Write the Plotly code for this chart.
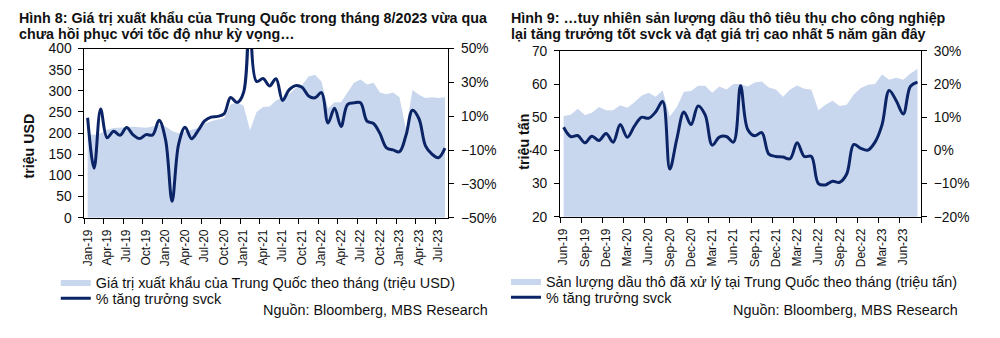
import plotly.graph_objects as go

# ---------------- data ----------------
months_l = ["Jan-19","Feb-19","Mar-19","Apr-19","May-19","Jun-19","Jul-19","Aug-19","Sep-19","Oct-19","Nov-19","Dec-19",
            "Jan-20","Feb-20","Mar-20","Apr-20","May-20","Jun-20","Jul-20","Aug-20","Sep-20","Oct-20","Nov-20","Dec-20",
            "Jan-21","Feb-21","Mar-21","Apr-21","May-21","Jun-21","Jul-21","Aug-21","Sep-21","Oct-21","Nov-21","Dec-21",
            "Jan-22","Feb-22","Mar-22","Apr-22","May-22","Jun-22","Jul-22","Aug-22","Sep-22","Oct-22","Nov-22","Dec-22",
            "Jan-23","Feb-23","Mar-23","Apr-23","May-23","Jun-23","Jul-23","Aug-23"]
exports = [197, 196, 200, 208, 212, 213, 215, 215, 214, 213, 216, 220,
           216, 205, 200, 204, 207, 212, 222, 228, 232, 235, 268, 273,
           265, 207, 250, 262, 263, 277, 285, 292, 307, 313, 334, 338,
           322, 258, 273, 273, 296, 319, 327, 315, 319, 296, 292, 296,
           285, 209, 302, 291, 283, 285, 283, 285]
exports_yoy = [9.1, -20.7, 14.2, -2.7, 1.1, -1.3, 3.3, -1.0, -3.2, -0.9, -1.1, 7.6,
               -4.0, -40.3, -6.6, 3.5, -3.3, 1.5, 7.2, 9.5, 9.9, 11.4, 21.1, 18.1,
               24.0, 154.9, 30.6, 32.3, 27.9, 32.2, 19.3, 25.6, 28.1, 27.1, 22.0, 20.9,
               24.0, 6.0, 14.7, 3.9, 16.9, 17.9, 18.0, 7.1, 5.7, -0.3, -8.7, -9.9,
               -11.0, -1.3, 13.5, 8.5, -7.5, -12.4, -14.5, -8.8]

months_r = ["Jun-19","Jul-19","Aug-19","Sep-19","Oct-19","Nov-19","Dec-19",
            "Jan-20","Feb-20","Mar-20","Apr-20","May-20","Jun-20","Jul-20","Aug-20","Sep-20","Oct-20","Nov-20","Dec-20",
            "Jan-21","Feb-21","Mar-21","Apr-21","May-21","Jun-21","Jul-21","Aug-21","Sep-21","Oct-21","Nov-21","Dec-21",
            "Jan-22","Feb-22","Mar-22","Apr-22","May-22","Jun-22","Jul-22","Aug-22","Sep-22","Oct-22","Nov-22","Dec-22",
            "Jan-23","Feb-23","Mar-23","Apr-23","May-23","Jun-23","Jul-23","Aug-23"]
crude = [50.4, 50.8, 52.6, 50.7, 51.4, 53.1, 52.1, 52.1, 53.6, 52.9, 54.5, 56.5, 57.4, 56.2, 58.1, 50.2, 53.1,
         57.7, 57.9, 59.5, 59.5, 57.4, 59.3, 58.4, 60.0, 60.0, 59.3, 60.5, 60.8, 59.0, 58.4, 56.2, 58.4, 59.6,
         58.6, 58.4, 52.1, 53.8, 55.0, 53.4, 53.8, 56.9, 58.8, 59.8, 60.0, 62.9, 61.3, 61.9, 61.3, 63.2, 64.6]
crude_yoy = [7.0, 4.2, 4.5, 2.3, 4.3, 3.0, 5.1, 2.5, 7.8, 4.0, 7.3, 10.0, 9.7, 11.6, 14.8, -5.6, 3.5,
             11.6, 7.8, 13.4, 10.7, 1.6, 4.0, 4.2, 2.5, 19.5, 6.4, 4.4, 5.4, -1.1, -1.8, -2.0, -2.5, 2.3,
             -1.8, -1.8, -10.0, -10.4, -9.3, -9.6, -7.1, 1.8, 0.6, 0.1, 2.5, 7.8, 18.1, 15.0, 11.0, 19.3, 20.6]

title_l = ["Hình 8: Giá trị xuất khẩu của Trung Quốc trong tháng 8/2023 vừa qua",
           "chưa hồi phục với tốc độ như kỳ vọng…"]
title_r = ["Hình 9: …tuy nhiên sản lượng dầu thô tiêu thụ cho công nghiệp",
           "lại tăng trưởng tốt svck và đạt giá trị cao nhất 5 năm gần đây"]
name_area_l = "Giá trị xuất khẩu của Trung Quốc theo tháng (triệu USD)"
name_area_r = "Sản lượng dầu thô đã xử lý tại Trung Quốc theo tháng (triệu tấn)"
name_line = "% tăng trưởng svck"
source = "Nguồn: Bloomberg, MBS Research"

# ---------------- style ----------------
W, H = 1000, 338
FONT = "Liberation Sans, Arial, sans-serif"
AREA = "#C9D7EE"
LINE = "#0B2466"
TXT = "#111111"
FS_TITLE = 14.3
FS_LEG = 14.4
FS_YT = 13.8
FS_XT = 12

def X(px):
    return px / W

def Y(py):
    return 1 - py / H

xl = list(range(len(months_l)))
xr = list(range(len(months_r)))

fig = go.Figure()
fig.add_trace(go.Scatter(x=xl, y=exports, name=name_area_l, mode="lines", fill="tozeroy",
                         fillcolor=AREA, line=dict(width=0, color=AREA), xaxis="x", yaxis="y",
                         legend="legend"))
fig.add_trace(go.Scatter(x=xl, y=exports_yoy, name=name_line, mode="lines",
                         line=dict(color=LINE, width=3, shape="spline", smoothing=1.0),
                         xaxis="x", yaxis="y2", legend="legend2"))
fig.add_trace(go.Scatter(x=xr, y=crude, name=name_area_r, mode="lines", fill="tozeroy",
                         fillcolor=AREA, line=dict(width=0, color=AREA), xaxis="x2", yaxis="y3",
                         legend="legend3"))
fig.add_trace(go.Scatter(x=xr, y=crude_yoy, name=name_line, mode="lines",
                         line=dict(color=LINE, width=3, shape="spline", smoothing=1.0),
                         xaxis="x2", yaxis="y4", legend="legend4"))

tickfont_y = dict(family=FONT, size=FS_YT, color=TXT)
tickfont_x = dict(family=FONT, size=FS_XT, color=TXT)

def xaxis_cfg(domain, anchor, labels):
    n = len(labels)
    idx = list(range(0, n, 3))
    return dict(domain=domain, anchor=anchor, range=[-0.5, n - 0.5],
                tickmode="array", tickvals=idx, ticktext=[labels[i] for i in idx],
                tickangle=-90, tickfont=tickfont_x, ticks="", ticklen=0, ticklabelstandoff=6,
                minor=dict(tickmode="array", tickvals=[i - 0.5 for i in range(0, n + 1, 3)],
                           ticks="outside", ticklen=5, tickcolor="black", tickwidth=1),
                showline=True, linecolor="black", linewidth=1, mirror=True,
                showgrid=False, zeroline=False, fixedrange=True)

def yaxis_cfg(domain, anchor, rng, dtick, suffix="", side="left", overlaying=None):
    d = dict(anchor=anchor, range=rng, dtick=dtick, tickmode="linear", tick0=rng[0],
             ticksuffix=suffix, side=side, tickfont=tickfont_y,
             ticks="outside", ticklen=5, tickcolor="black", tickwidth=1,
             showline=True, linecolor="black", linewidth=1,
             showgrid=False, zeroline=False, fixedrange=True, ticklabelstandoff=4)
    if overlaying:
        d["overlaying"] = overlaying
    else:
        d["domain"] = domain
    return d

def legend_cfg(px, py):
    return dict(x=X(px), y=Y(py), xanchor="left", yanchor="middle",
                font=dict(family=FONT, size=FS_LEG, color=TXT), bgcolor="rgba(0,0,0,0)",
                tracegroupgap=0, itemwidth=30)

dom_yl = [Y(220.5), Y(43.5)]
dom_yr = [Y(219.5), Y(46)]

fig.update_layout(
    width=W, height=H, margin=dict(l=0, r=0, t=0, b=0),
    paper_bgcolor="white", plot_bgcolor="white",
    font=dict(family=FONT, color=TXT),
    xaxis=xaxis_cfg([X(80.7), X(446)], "y", months_l),
    yaxis=yaxis_cfg(dom_yl, "x", [0, 400], 50),
    yaxis2=yaxis_cfg(None, "x", [-50, 50], 20, "%", side="right", overlaying="y"),
    xaxis2=xaxis_cfg([X(558.3), X(920.7)], "y3", months_r),
    yaxis3=yaxis_cfg(dom_yr, "x2", [20, 70], 10),
    yaxis4=yaxis_cfg(None, "x2", [-20, 30], 10, "%", side="right", overlaying="y3"),
    showlegend=True,
    legend=legend_cfg(52, 288),
    legend2=legend_cfg(52, 305),
    legend3=legend_cfg(504, 287),
    legend4=legend_cfg(504, 304),
)

ann = []
for k, line in enumerate(title_l):
    ann.append(dict(text=f"<b>{line}</b>", x=X(13), y=Y(12 + 16.5 * k), xref="paper", yref="paper",
                    xanchor="left", yanchor="middle", showarrow=False,
                    font=dict(family=FONT, size=FS_TITLE, color=TXT)))
for k, line in enumerate(title_r):
    ann.append(dict(text=f"<b>{line}</b>", x=X(507), y=Y(12 + 16.5 * k), xref="paper", yref="paper",
                    xanchor="left", yanchor="middle", showarrow=False,
                    font=dict(family=FONT, size=FS_TITLE, color=TXT)))
ann.append(dict(text="<b>triệu USD</b>", x=X(25), y=Y(145), xref="paper", yref="paper",
                textangle=-90, showarrow=False, xanchor="center", yanchor="middle",
                font=dict(family=FONT, size=14.2, color=TXT)))
ann.append(dict(text="<b>triệu tấn</b>", x=X(522), y=Y(141), xref="paper", yref="paper",
                textangle=-90, showarrow=False, xanchor="center", yanchor="middle",
                font=dict(family=FONT, size=14.2, color=TXT)))
ann.append(dict(text=source, x=X(488), y=Y(317), xref="paper", yref="paper",
                xanchor="right", yanchor="middle", showarrow=False,
                font=dict(family=FONT, size=FS_LEG, color=TXT)))
ann.append(dict(text=source, x=X(960), y=Y(317), xref="paper", yref="paper",
                xanchor="right", yanchor="middle", showarrow=False,
                font=dict(family=FONT, size=FS_LEG, color=TXT)))
fig.update_layout(annotations=ann)

fig.write_html("out.html")
